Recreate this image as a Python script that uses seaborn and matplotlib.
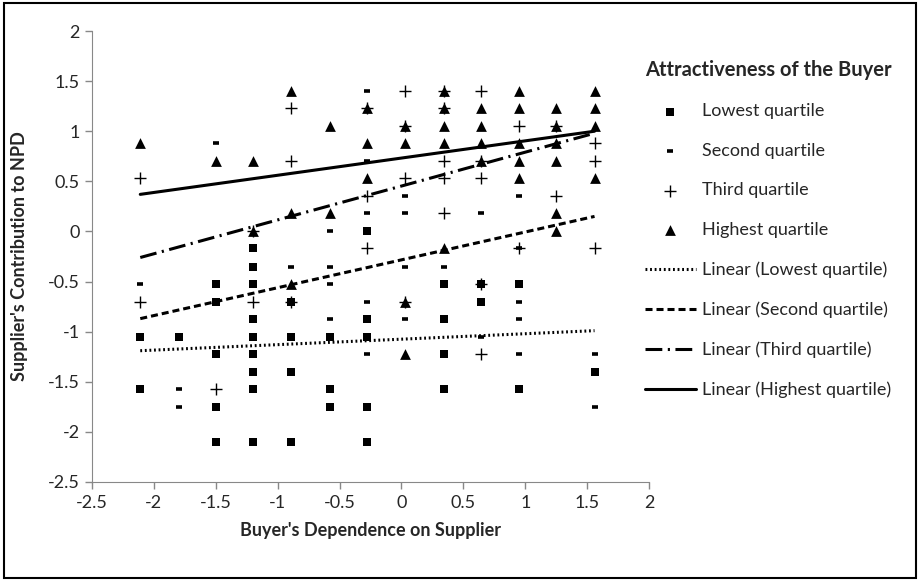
import numpy as np
import pandas as pd
import seaborn as sns
import matplotlib.pyplot as plt
from matplotlib.patches import Rectangle

# data (x = buyer's dependence, y = supplier's contribution)
low_x = [-2.11, -2.11, -1.80, -1.50, -1.50, -1.50, -1.50, -1.50,
         -1.20, -1.20, -1.20, -1.20, -1.20, -1.20, -1.20, -1.20, -1.20,
         -0.89, -0.89, -0.89, -0.89, -0.58, -0.58, -0.58,
         -0.28, -0.28, -0.28, -0.28, -0.28, 0.34, 0.34, 0.34, 0.34,
         0.64, 0.64, 0.95, 0.95, 1.56]
low_y = [-1.05, -1.57, -1.05, -0.52, -0.70, -1.22, -1.75, -2.10,
         -0.17, -0.35, -0.52, -0.87, -1.05, -1.22, -1.40, -1.57, -2.10,
         -0.70, -1.05, -1.40, -2.10, -1.05, -1.57, -1.75,
         0.00, -0.87, -1.05, -1.75, -2.10, -0.52, -0.87, -1.22, -1.57,
         -0.52, -0.70, -0.52, -1.57, -1.40]

sec_x = [-2.11, -1.80, -1.80, -1.50, -0.89, -0.58, -0.58, -0.58, -0.58,
         -0.28, -0.28, -0.28, -0.28, -0.28, 0.03, 0.03, 0.03, 0.03,
         0.34, 0.64, 0.64, 0.95, 0.95, 0.95, 0.95, 0.95, 1.56, 1.56]
sec_y = [-0.52, -1.57, -1.75, 0.88, -0.35, 0.00, -0.35, -0.52, -0.87,
         1.40, 0.70, 0.18, -0.70, -1.22, 0.35, 0.18, -0.35, -0.87,
         -0.35, 0.18, -1.05, 0.35, -0.17, -0.70, -0.87, -1.22, -1.22, -1.75]

thi_x = [-2.11, -2.11, -1.50, -1.20, -1.20, -0.89, -0.89, -0.89,
         -0.28, -0.28, -0.28, 0.03, 0.03, 0.03, 0.03,
         0.34, 0.34, 0.34, 0.34, 0.34, 0.64, 0.64, 0.64, 0.64, 0.64,
         0.95, 0.95, 1.25, 1.25, 1.56, 1.56, 1.56]
thi_y = [0.53, -0.70, -1.57, -0.70, 0.00, 1.23, 0.70, -0.70,
         1.23, 0.35, -0.17, 1.40, 1.05, 0.53, -0.70,
         1.40, 1.23, 0.70, 0.53, 0.18, 1.40, 0.70, 0.53, -0.52, -1.22,
         1.05, -0.17, 1.05, 0.35, 0.88, 0.70, -0.17]

hig_x = [-2.11, -1.50, -1.20, -1.20, -0.89, -0.89, -0.89, -0.58, -0.58,
         -0.28, -0.28, -0.28, 0.03, 0.03, 0.03, 0.03,
         0.34, 0.34, 0.34, 0.34, 0.34, 0.64, 0.64, 0.64, 0.64,
         0.95, 0.95, 0.95, 0.95, 0.95, 1.25, 1.25, 1.25, 1.25, 1.25, 1.25,
         1.56, 1.56, 1.56, 1.56]
hig_y = [0.88, 0.70, 0.70, 0.00, 1.40, 0.18, -0.52, 1.05, 0.18,
         1.23, 0.88, 0.53, 1.05, 0.88, -0.70, -1.22,
         1.40, 1.23, 1.05, 0.88, -0.17, 1.23, 1.05, 0.88, 0.70,
         1.40, 1.23, 0.88, 0.70, 0.53, 1.23, 1.05, 0.88, 0.70, 0.18, 0.00,
         1.40, 1.23, 1.05, 0.53]

# linear trendlines as drawn in the reference (value at left end, value at right end)
trend_x = [-2.11, 1.56]
trend_low = [-1.19, -0.99]
trend_sec = [-0.87, 0.15]
trend_thi = [-0.26, 0.98]
trend_hig = [0.37, 1.00]

groups = ['Lowest quartile', 'Second quartile', 'Third quartile', 'Highest quartile']
xticks = [-2.5, -2, -1.5, -1, -0.5, 0, 0.5, 1, 1.5, 2]
xtick_labels = ['-2.5', '-2', '-1.5', '-1', '-0.5', '0', '0.5', '1', '1.5', '2']
yticks = [2, 1.5, 1, 0.5, 0, -0.5, -1, -1.5, -2, -2.5]
ytick_labels = ['2', '1.5', '1', '0.5', '0', '-0.5', '-1', '-1.5', '-2', '-2.5']

sns.set_style('ticks')
plt.rcParams['font.family'] = ['Lato', 'DejaVu Sans']

fig = plt.figure(figsize=(9.2, 5.81), dpi=100)
ax = fig.add_axes([92 / 920, 1 - 482 / 581, 557 / 920, 451 / 581])

series = [(low_x, low_y), (sec_x, sec_y), (thi_x, thi_y), (hig_x, hig_y)]
markers = ['s', '_', '+', '^']
sizes = [34, 22, 80, 60]
widths = [0, 2.6, 1.0, 0]

for (gx, gy), name, m, s, w in zip(series, groups, markers, sizes, widths):
    d = pd.DataFrame({'x': gx, 'y': gy})
    sns.scatterplot(data=d, x='x', y='y', ax=ax, marker=m, s=s, color='black',
                    linewidth=w, edgecolor='black', label=name, legend=False)

trends = [trend_low, trend_sec, trend_thi, trend_hig]
styles = [(0, (0.6, 0.9)), (0, (2.3, 1.3)), (0, (5.5, 1.8, 0.7, 1.8)), '-']
for ty, name, ls in zip(trends, groups, styles):
    t = pd.DataFrame({'x': trend_x, 'y': ty})
    sns.lineplot(data=t, x='x', y='y', ax=ax, color='black', linestyle=ls,
                 linewidth=2.2, label='Linear (' + name + ')', legend=False)

ax.set_xlim(-2.5, 2)
ax.set_ylim(-2.5, 2)
ax.set_xticks(xticks)
ax.set_xticklabels(xtick_labels)
ax.set_yticks(yticks)
ax.set_yticklabels(ytick_labels)
ax.tick_params(labelsize=13, length=5, color='#888888', width=1, pad=4)
for side in ['left', 'bottom']:
    ax.spines[side].set_color('#888888')
sns.despine(ax=ax)
ax.set_xlabel("Buyer's Dependence on Supplier", fontsize=13, fontweight='bold', labelpad=8)
ax.set_ylabel("Supplier's Contribution to NPD", fontsize=13, fontweight='bold', labelpad=14)

h_all, l_all = ax.get_legend_handles_labels()
leg = fig.legend(h_all, l_all, title='Attractiveness of the Buyer',
                 loc='upper left', bbox_to_anchor=(645 / 920, 1 - 60 / 581),
                 frameon=False, fontsize=13, title_fontproperties={'weight': 'bold', 'size': 14.5},
                 handlelength=2.8, handletextpad=0.35, labelspacing=1.3,
                 borderpad=0, borderaxespad=0, alignment='left')

fig.patches.append(Rectangle((0.004, 0.006), 0.992, 0.988, transform=fig.transFigure,
                             fill=False, edgecolor='black', linewidth=1.5))

plt.savefig('out.png', dpi=100)
